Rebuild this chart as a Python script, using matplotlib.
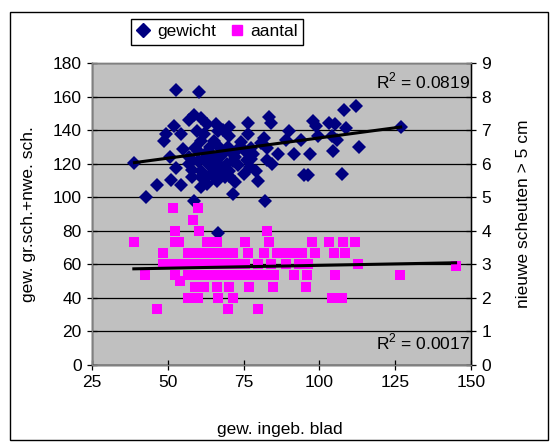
import matplotlib
matplotlib.use('Agg')
import matplotlib.pyplot as plt
from matplotlib.lines import Line2D
from matplotlib.patches import Rectangle
import numpy as np

plt.rcParams['font.family'] = ['Liberation Sans', 'DejaVu Sans']
plt.rcParams['mathtext.fontset'] = 'custom'
plt.rcParams['mathtext.rm'] = 'Liberation Sans'

# ── data: gewicht (left axis) ──
gew_x = [52.8, 60.3, 39.0, 42.9, 46.5, 50.9, 54.3, 58.8, 60.8, 52.2, 49.4, 48.8, 54.3, 55.0,
         56.9, 58.5, 60.9, 63.0, 66.0, 66.5, 59.5, 62.1, 59.0, 50.7, 52.8, 56.9, 60.0, 63.2,
         61.1, 64.2, 67.3, 58.0, 62.1, 66.3, 60.0, 63.2, 67.3, 69.4, 61.1, 65.3, 64.2,
         70.1, 70.3, 68.2, 76.6, 83.3, 83.9, 81.8, 76.6, 80.7, 90.1, 89.1, 93.8, 97.9, 99.0,
         99.5, 86.5, 91.7, 96.9, 82.8, 84.4, 77.6, 79.2, 79.7, 71.4, 70.3, 68.2, 70.3, 71.4,
         82.1, 94.8, 96.4, 75.5, 73.5, 77.6, 82.8,
         103.1, 105.0, 104.0, 105.7, 104.4, 108.1, 112.0, 108.9, 113.1, 107.6, 126.8, 66.7,
         57.0, 58.0, 62.0, 65.0, 68.0, 70.0, 72.0, 73.0, 74.0, 76.0, 78.0, 63.0, 61.0, 69.0,
         72.0, 75.0, 77.0, 64.0, 66.0, 71.0]
gew_y = [163.9, 163.0, 120.6, 100.0, 107.2, 110.2, 107.2, 97.6, 106.3, 142.7, 137.8, 133.8, 137.4, 128.5,
         146.2, 148.8, 147.2, 143.7, 143.7, 139.7, 139.7, 137.4, 129.5, 124.0, 117.7, 119.6, 121.6, 119.6,
         115.7, 113.7, 115.7, 111.8, 110.8, 109.8, 127.5, 127.5, 129.5, 119.6, 133.4, 133.4, 125.6,
         141.7, 136.4, 140.3, 144.3, 147.6, 144.3, 135.4, 137.4, 132.4, 139.7, 134.4, 134.4, 145.2, 142.3,
         136.4, 126.0, 125.6, 125.6, 122.0, 119.6, 122.6, 115.7, 109.8, 121.6, 115.7, 117.7, 112.8, 101.9,
         98.0, 113.3, 113.3, 127.5, 129.5, 129.5, 129.5,
         144.2, 143.4, 136.2, 133.9, 127.3, 152.1, 154.1, 141.4, 129.9, 113.7, 141.8, 78.4,
         124.0, 116.0, 123.0, 118.0, 125.0, 130.0, 124.0, 119.0, 133.0, 122.0, 126.0, 108.0, 112.0, 112.0,
         109.0, 114.0, 118.0, 130.0, 121.0, 127.0]

# ── data: aantal (right axis) ──
aan_x = [51.8, 59.9, 58.3,
         52.3, 60.4, 82.8,
         38.8, 52.3, 53.6, 63.0, 66.1, 75.6, 83.3, 97.4, 103.3, 107.8, 111.7,
         48.4, 56.8, 59.9, 63.0, 66.1, 69.3, 71.4, 76.6, 81.8, 85.9, 89.1, 92.2, 94.3, 98.4, 104.7, 108.3,
         48.4, 51.6, 54.7, 57.8, 60.9, 64.1, 67.2, 70.3, 72.4, 75.5, 79.7, 83.9, 89.1, 93.2, 96.4,
         112.8, 144.9,
         42.5, 52.3, 56.8, 59.9, 63.0, 66.1, 69.3, 72.4, 75.5, 78.6, 81.8, 84.9, 91.7, 95.8, 105.2, 126.6,
         54.0,
         58.9, 62.0, 66.1, 70.3, 76.9, 84.6, 95.6,
         56.8, 59.9, 66.5, 71.4, 104.2, 107.3,
         46.4, 69.8, 79.7]
aan_y = [4.67, 4.67, 4.33,
         4.0, 4.0, 4.0,
         3.67, 3.67, 3.67, 3.67, 3.67, 3.67, 3.67, 3.67, 3.67, 3.67, 3.67,
         3.33, 3.33, 3.33, 3.33, 3.33, 3.33, 3.33, 3.33, 3.33, 3.33, 3.33, 3.33, 3.33, 3.33, 3.33, 3.33,
         3.0, 3.0, 3.0, 3.0, 3.0, 3.0, 3.0, 3.0, 3.0, 3.0, 3.0, 3.0, 3.0, 3.0, 3.0,
         3.0, 2.94,
         2.67, 2.67, 2.67, 2.67, 2.67, 2.67, 2.67, 2.67, 2.67, 2.67, 2.67, 2.67, 2.67, 2.67, 2.67, 2.67,
         2.5,
         2.33, 2.33, 2.33, 2.33, 2.33, 2.33, 2.33,
         2.0, 2.0, 2.0, 2.0, 2.0, 2.0,
         1.67, 1.67, 1.67]

# linear trend (slope, intercept) as shown in the chart
trend_gew = (0.2415, 111.2)
trend_aan = (0.0017, 2.80)
r2_gew = 'R$^{2}$ = 0.0819'
r2_aan = 'R$^{2}$ = 0.0017'

NAVY = '#000080'
MAG = '#FF00FF'
PLOT_BG = '#C0C0C0'
FS = 12.5

W, H = 552, 443
fig = plt.figure(figsize=(W / 100, H / 100), dpi=100, facecolor='white')

# outer chart border
fig.patches.append(Rectangle((10 / W, 3 / H), 538 / W, 428 / H, transform=fig.transFigure,
                             fill=False, edgecolor='black', linewidth=1))

L, R, T, B = 92, 471, 63, 365
ax = fig.add_axes([L / W, (H - B) / H, (R - L) / W, (B - T) / H])
ax2 = ax.twinx()
ax.set_facecolor(PLOT_BG)

ax.set_xlim(25, 150)
ax.set_ylim(0, 180)
ax2.set_ylim(0, 9)
ax.set_xticks(np.arange(25, 151, 25))
ax.set_yticks(np.arange(0, 181, 20))
ax2.set_yticks(np.arange(0, 10, 1))
ax.grid(axis='y', color='black', linewidth=0.9)
ax.set_axisbelow(True)

for a in (ax, ax2):
    a.tick_params(direction='inout', length=7, width=0.9, labelsize=FS, pad=4)
    for s in a.spines.values():
        s.set_color('#808080')
        s.set_linewidth(1)
ax.spines['left'].set_color('black')
ax.spines['bottom'].set_color('black')
ax2.spines['right'].set_color('black')

# scatter
ax.plot(gew_x, gew_y, 'D', color=NAVY, markersize=7.5, markeredgewidth=0, zorder=3)
ax2.plot(aan_x, aan_y, 's', color=MAG, markersize=7.8, markeredgewidth=0, zorder=3)

# linear trend lines over the data range
xs = np.array([min(gew_x), max(gew_x)])
ax.plot(xs, trend_gew[0] * xs + trend_gew[1], color='black', linewidth=2.2, zorder=4)
xs2 = np.array([min(aan_x), max(aan_x)])
ax2.plot(xs2, trend_aan[0] * xs2 + trend_aan[1], color='black', linewidth=2.2, zorder=4)

ax2.text(0.998, 0.94, r2_gew, transform=ax.transAxes, ha='right', va='center', fontsize=FS)
ax2.text(0.998, 0.075, r2_aan, transform=ax.transAxes, ha='right', va='center', fontsize=FS)

ax.set_xlabel('gew. ingeb. blad', fontsize=FS)
ax.set_ylabel('gew. gr.sch.+nwe. sch.', fontsize=FS)
ax2.set_ylabel('nieuwe scheuten > 5 cm', fontsize=FS)
ax.xaxis.set_label_coords((280 - L) / (R - L), (B - 422) / (B - T))
ax.yaxis.set_label_coords((36 - L) / (R - L), 0.5)
ax2.yaxis.set_label_coords((516 - L) / (R - L), 0.5)

handles = [Line2D([], [], marker='D', color=NAVY, linestyle='none', markersize=7),
           Line2D([], [], marker='s', color=MAG, linestyle='none', markersize=7.5)]
leg = fig.legend(handles, ['gewicht', 'aantal'], ncol=2, loc='upper left',
                 bbox_to_anchor=(131 / W, 1 - 19 / H), borderaxespad=0, fontsize=FS,
                 fancybox=False, edgecolor='black', framealpha=1,
                 handlelength=0.8, handletextpad=0.4, columnspacing=0.8, borderpad=0.3)
leg.get_frame().set_linewidth(1)

fig.savefig('out.png', dpi=100, facecolor='white')
